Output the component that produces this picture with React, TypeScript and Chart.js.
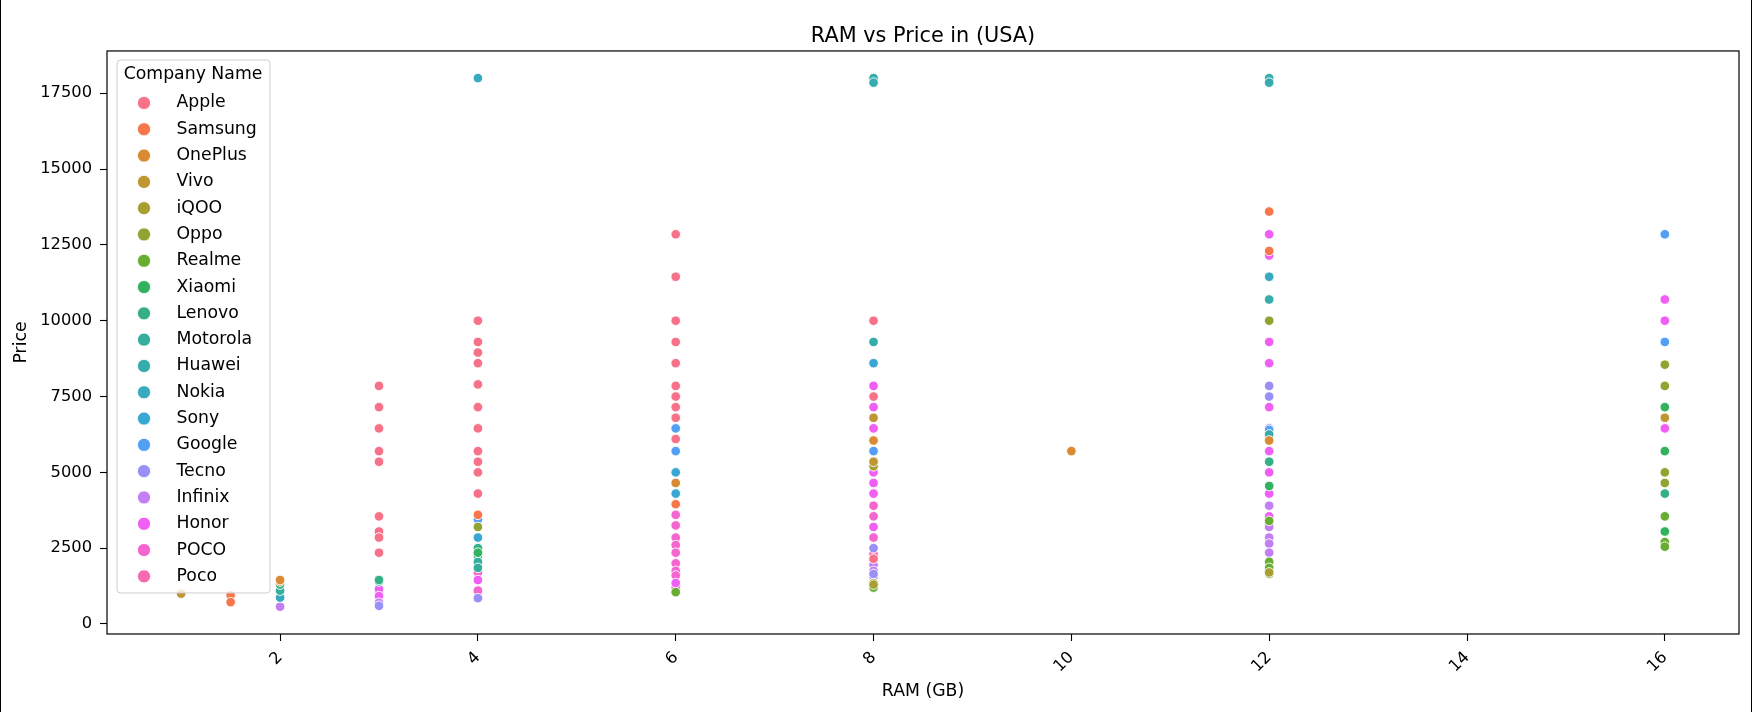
import { useEffect, useRef } from "react";
import { Chart, registerables } from "chart.js";

Chart.register(...registerables);

const FONT = "'DejaVu Sans', 'Liberation Sans', sans-serif";

// ---------------- data ----------------
const companies = [
  "Apple", "Samsung", "OnePlus", "Vivo", "iQOO", "Oppo", "Realme", "Xiaomi", "Lenovo",
  "Motorola", "Huawei", "Nokia", "Sony", "Google", "Tecno", "Infinix", "Honor", "POCO", "Poco",
];

const apple = [
  [3, 7850], [3, 7150], [3, 6450], [3, 5700], [3, 5350], [3, 3550], [3, 3050], [3, 2850], [3, 2350],
  [4, 10000], [4, 9300], [4, 8950], [4, 8600], [4, 7900], [4, 7150], [4, 6450], [4, 5700], [4, 5350], [4, 5000], [4, 4300],
  [6, 12850], [6, 11450], [6, 10000], [6, 9300], [6, 8600], [6, 7850], [6, 7500], [6, 7150], [6, 6800], [6, 6100],
  [8, 10000], [8, 7500], [8, 2150],
];
const samsung = [[1.5, 950], [1.5, 720], [4, 3600], [6, 3950], [12, 13600], [12, 12300]];
const oneplus = [[2, 1450], [6, 4650], [8, 6050], [10, 5700], [12, 6050]];
const vivo = [[1, 1000], [2, 1400], [8, 6800], [8, 5350], [16, 6800]];
const iqoo = [[8, 5200], [8, 1300], [12, 1700]];
const oppo = [[4, 3200], [8, 1350], [12, 10000], [12, 1650], [16, 8550], [16, 7850], [16, 5000], [16, 4650]];
const realme = [[6, 1050], [8, 1200], [12, 3400], [12, 2050], [12, 1850], [16, 3550], [16, 2700], [16, 2550]];
const xiaomi = [[4, 2350], [12, 4550], [16, 7150], [16, 5700], [16, 3050]];
const lenovo = [[2, 1300], [3, 1450], [4, 2500], [12, 5350], [16, 4300]];
const motorola = [[2, 1100], [3, 1400], [4, 2250], [4, 2050], [4, 1850]];
const huawei = [[8, 18000], [8, 17850], [8, 9300], [8, 5250], [12, 18000], [12, 17850], [12, 10700], [12, 6250]];
const nokia = [[2, 870], [4, 18000], [12, 11450]];
const sony = [[4, 2850], [6, 5000], [6, 4300], [8, 8600]];
const google = [[4, 3450], [6, 6450], [6, 5700], [8, 5700], [12, 6400], [16, 12850], [16, 9300]];
const tecno = [[3, 600], [4, 850], [8, 2500], [8, 1650], [12, 7850], [12, 7500], [12, 6450]];
const infinix = [
  [2, 570], [3, 700], [8, 1950], [8, 1750], [8, 1550], [8, 1350],
  [12, 3900], [12, 3200], [12, 2850], [12, 2650], [12, 2350],
];
const honor = [
  [3, 1150], [3, 920], [4, 1450], [6, 1350],
  [8, 7850], [8, 7150], [8, 6450], [8, 5000], [8, 4650], [8, 4300], [8, 3200],
  [12, 12850], [12, 12150], [12, 9300], [12, 8600], [12, 7150], [12, 5700], [12, 5000], [12, 4300], [12, 3550],
  [16, 10700], [16, 10000], [16, 6450],
];
const pocoUpper = [
  [3, 1050], [4, 1700], [4, 1100],
  [6, 3600], [6, 3250], [6, 2850], [6, 2600], [6, 2350], [6, 2000], [6, 1750], [6, 1600], [6, 1200],
  [8, 3900], [8, 3550], [8, 2850],
];
const pocoLower = [[4, 1050], [8, 2300], [8, 2100]];

const series = [
  apple, samsung, oneplus, vivo, iqoo, oppo, realme, xiaomi, lenovo,
  motorola, huawei, nokia, sony, google, tecno, infinix, honor, pocoUpper, pocoLower,
];

const xTicks = [2, 4, 6, 8, 10, 12, 14, 16];
const yTicks = [0, 2500, 5000, 7500, 10000, 12500, 15000, 17500];

// ---------------- husl palette (seaborn) ----------------
const HM = [
  [3.2406, -1.5372, -0.4986],
  [-0.9689, 1.8758, 0.0415],
  [0.0557, -0.204, 1.057],
];
const refU = 0.19784;
const refV = 0.46834;
const labE = 0.008856;
const labK = 903.3;

function maxChroma(L: number, H: number) {
  const hrad = (H * Math.PI) / 180;
  const sinH = Math.sin(hrad);
  const cosH = Math.cos(hrad);
  const sub1 = Math.pow(L + 16, 3) / 1560896;
  const sub2 = sub1 > 0.008856 ? sub1 : L / 903.3;
  let result = Infinity;
  for (const [m1, m2, m3] of HM) {
    const top = (0.99915 * m1 + 1.05122 * m2 + 1.1446 * m3) * sub2;
    const rbottom = 0.8633 * m3 - 0.17266 * m2;
    const lbottom = 0.12949 * m3 - 0.38848 * m1;
    const bottom = (rbottom * sinH + lbottom * cosH) * sub2;
    for (const t of [0, 1]) {
      const C = (L * (top - 1.05122 * t)) / (bottom + 0.17266 * sinH * t);
      if (C > 0 && C < result) result = C;
    }
  }
  return result;
}

function huslToRgb(H: number, S: number, L: number) {
  const C = (maxChroma(L, H) / 100) * S;
  const hrad = (H * Math.PI) / 180;
  const U = Math.cos(hrad) * C;
  const V = Math.sin(hrad) * C;
  const t = (L + 16) / 116;
  const varY = Math.pow(t, 3) > labE ? Math.pow(t, 3) : (116 * t - 16) / labK;
  const varU = U / (13 * L) + refU;
  const varV = V / (13 * L) + refV;
  const Y = varY;
  const X = 0 - (9 * Y * varU) / ((varU - 4) * varV - varU * varV);
  const Z = (9 * Y - 15 * varV * Y - varV * X) / (3 * varV);
  const lin = HM.map((r) => r[0] * X + r[1] * Y + r[2] * Z);
  return lin.map((c) => {
    const v = c <= 0.0031308 ? 12.92 * c : 1.055 * Math.pow(c, 1 / 2.4) - 0.055;
    return Math.round(Math.min(1, Math.max(0, v)) * 255);
  });
}

function huslPalette(n: number) {
  const out: string[] = [];
  for (let i = 0; i < n; i++) {
    let h = i / n + 0.01;
    h = h % 1;
    const [r, g, b] = huslToRgb(h * 359, 0.9 * 99, 0.65 * 99);
    out.push(`rgb(${r}, ${g}, ${b})`);
  }
  return out;
}

// ---------------- plugins ----------------
const framePlugin = {
  id: "frame",
  afterDatasetsDraw(chart: any) {
    const { ctx, chartArea } = chart;
    ctx.save();
    ctx.strokeStyle = "#000";
    ctx.lineWidth = 1.2;
    ctx.strokeRect(chartArea.left, chartArea.top, chartArea.right - chartArea.left, chartArea.bottom - chartArea.top);
    ctx.restore();
  },
};

const legendPlugin = {
  id: "companyLegend",
  afterDraw(chart: any) {
    const { ctx, chartArea } = chart;
    const datasets = chart.data.datasets;
    const x0 = chartArea.left + 10;
    const y0 = chartArea.top + 9;
    const w = 153;
    const rowH = 26.3;
    const h = 533;
    const r = 3.5;
    ctx.save();
    ctx.beginPath();
    ctx.moveTo(x0 + r, y0);
    ctx.lineTo(x0 + w - r, y0);
    ctx.arcTo(x0 + w, y0, x0 + w, y0 + r, r);
    ctx.lineTo(x0 + w, y0 + h - r);
    ctx.arcTo(x0 + w, y0 + h, x0 + w - r, y0 + h, r);
    ctx.lineTo(x0 + r, y0 + h);
    ctx.arcTo(x0, y0 + h, x0, y0 + h - r, r);
    ctx.lineTo(x0, y0 + r);
    ctx.arcTo(x0, y0, x0 + r, y0, r);
    ctx.closePath();
    ctx.fillStyle = "rgba(255,255,255,0.8)";
    ctx.fill();
    ctx.strokeStyle = "#cccccc";
    ctx.lineWidth = 1;
    ctx.stroke();

    ctx.font = `17.3px ${FONT}`;
    ctx.fillStyle = "#000";
    ctx.textBaseline = "middle";
    ctx.textAlign = "center";
    ctx.fillText("Company Name", x0 + 76, y0 + 15);
    ctx.textAlign = "left";
    datasets.forEach((ds: any, i: number) => {
      const cy = y0 + 43 + i * rowH;
      ctx.beginPath();
      ctx.arc(x0 + 27, cy, 6.6, 0, Math.PI * 2);
      ctx.fillStyle = ds.backgroundColor;
      ctx.fill();
      ctx.strokeStyle = "#fff";
      ctx.lineWidth = 0.9;
      ctx.stroke();
      ctx.fillStyle = "#000";
      ctx.fillText(ds.label, x0 + 59.5, cy);
    });
    ctx.restore();
  },
};

export default function App() {
  const ref = useRef<HTMLCanvasElement>(null);

  useEffect(() => {
    if (!ref.current) return;
    const palette = huslPalette(companies.length);
    const datasets = companies.map((name, i) => ({
      label: name,
      data: series[i].map(([x, y]) => ({ x, y })),
      backgroundColor: palette[i],
      borderColor: "#ffffff",
      borderWidth: 0.9,
      pointRadius: 4.8,
      pointHoverRadius: 4.8,
    }));

    const tickFont = { family: FONT, size: 16.3 };
    const chart = new Chart(ref.current, {
      type: "scatter",
      data: { datasets },
      options: {
        responsive: false,
        animation: false,
        events: [],
        layout: { padding: { left: 0, right: 13, top: 0, bottom: 0 } },
        plugins: {
          legend: { display: false },
          tooltip: { enabled: false },
          title: {
            display: true,
            text: "RAM vs Price in (USA)",
            color: "#000",
            fullSize: false,
            font: { family: FONT, size: 20.8, weight: "normal", lineHeight: 1.2 },
            padding: { top: 24, bottom: 2 },
          },
        },
        scales: {
          x: {
            type: "linear",
            position: "bottom",
            min: 0.25,
            max: 16.75,
            afterBuildTicks: (s: any) => {
              s.ticks = xTicks.map((v) => ({ value: v }));
            },
            afterFit: (s: any) => {
              s.height = 78;
            },
            grid: { drawOnChartArea: false, tickLength: 7, tickColor: "#000", tickWidth: 1.1 },
            border: { display: false },
            ticks: {
              color: "#000",
              font: tickFont,
              minRotation: 45,
              maxRotation: 45,
              padding: 7,
              autoSkip: false,
              callback: (v: any) => String(v),
            },
            title: {
              display: true,
              text: "RAM (GB)",
              color: "#000",
              font: { family: FONT, size: 17.3, lineHeight: 1.2 },
              padding: { top: 0, bottom: 10 },
            },
          },
          y: {
            type: "linear",
            position: "left",
            min: -330,
            max: 18895,
            afterBuildTicks: (s: any) => {
              s.ticks = yTicks.map((v) => ({ value: v }));
            },
            afterFit: (s: any) => {
              s.width = 107;
            },
            grid: { drawOnChartArea: false, tickLength: 7, tickColor: "#000", tickWidth: 1.1 },
            border: { display: false },
            ticks: { color: "#000", font: tickFont, padding: 8, callback: (v: any) => String(v) },
            title: {
              display: true,
              text: "Price",
              color: "#000",
              font: { family: FONT, size: 17.3, lineHeight: 1.2 },
              padding: { top: 11, bottom: 0 },
            },
          },
        },
      },
      plugins: [framePlugin, legendPlugin],
    } as any);

    return () => chart.destroy();
  }, []);

  return (
    <div style={{ position: "fixed", left: 0, top: 0, width: 1752, height: 712, background: "#fff" }}>
      <canvas ref={ref} width={1752} height={712} style={{ display: "block", width: 1752, height: 712 }} />
      <div style={{ position: "absolute", left: 0, top: 0, width: 1, height: 712, background: "#000" }} />
      <div style={{ position: "absolute", right: 0, top: 0, width: 1, height: 712, background: "#000" }} />
    </div>
  );
}
